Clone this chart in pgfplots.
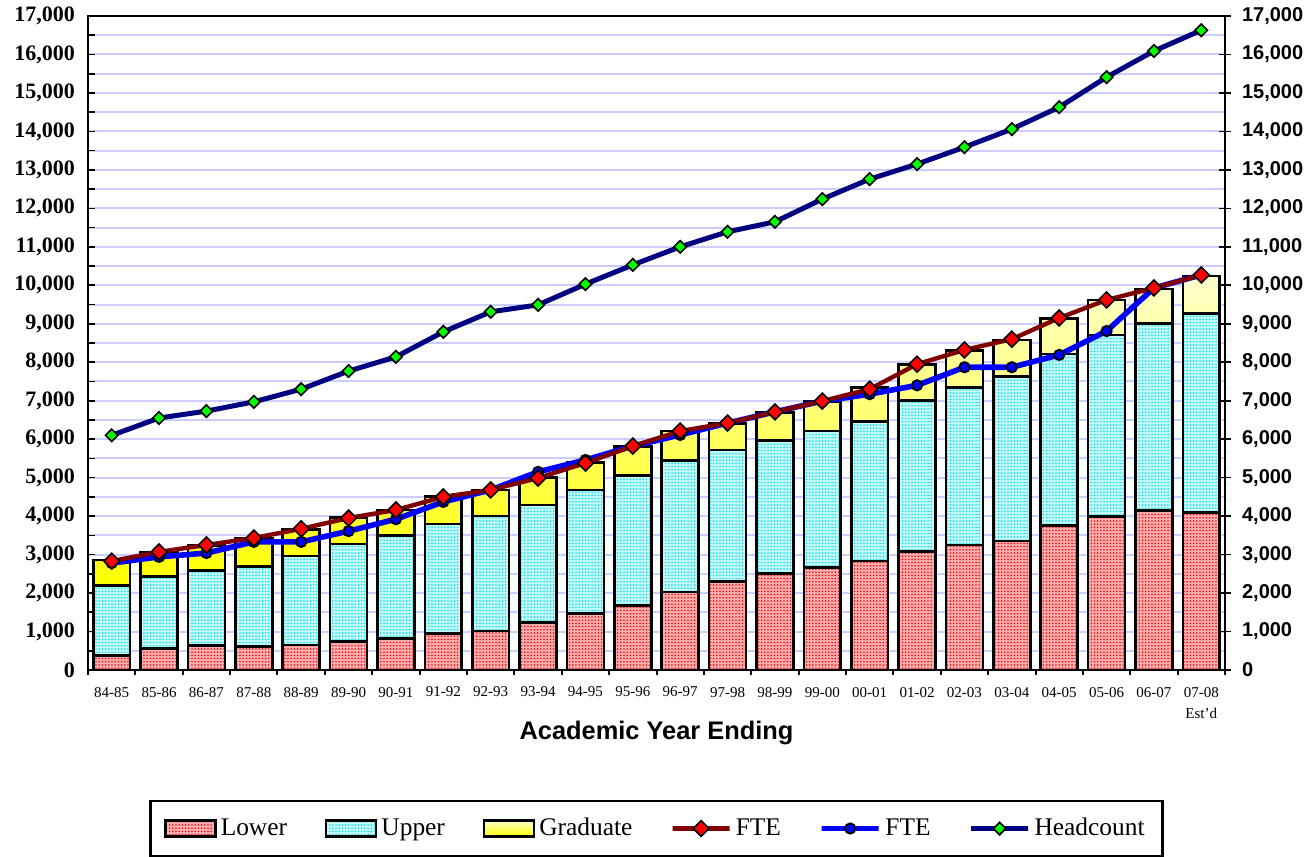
\documentclass[border=0pt]{standalone}
\usepackage{pgfplots}
\usepackage{pgfplotstable}
\pgfplotsset{compat=1.18}
\usepackage{fontspec}
\setmainfont{Liberation Serif}
\newfontfamily\arialfont{Liberation Sans}
\usetikzlibrary{patterns,patterns.meta}
\definecolor{gridlav}{RGB}{204,204,255}
\definecolor{ftered}{RGB}{128,0,0}
\definecolor{navyc}{RGB}{0,0,128}
\definecolor{lowbg}{RGB}{255,175,175}
\definecolor{lowdot}{RGB}{245,10,10}
\definecolor{upbg}{RGB}{200,250,250}
\definecolor{updot}{RGB}{0,225,235}
\definecolor{gradtop}{RGB}{255,255,205}
\definecolor{gradbot}{RGB}{255,255,0}

\pgfplotstableread{
x L U G
0 380 1810 670
1 564 1861 625
2 642 1940 650
3 607 2079 734
4 650 2313 694
5 736 2539 694
6 823 2668 667
7 953 2842 710
8 1018 2980 682
9 1230 3060 710
10 1473 3207 710
11 1681 3377 747
12 2027 3413 772
13 2296 3422 693
14 2513 3447 728
15 2669 3543 762
16 2833 3621 883
17 3075 3925 935
18 3249 4098 953
19 3353 4270 954
20 3751 4462 927
21 3985 4722 909
22 4141 4870 891
23 4089 5182 969
}\barTab

\pgfplotstableread{
x fte ftb head
0 2830 2780 6100
1 3070 2940 6550
2 3250 3040 6730
3 3430 3330 6970
4 3670 3330 7300
5 3950 3610 7770
6 4160 3920 8140
7 4500 4370 8790
8 4680 4680 9310
9 4990 5150 9490
10 5380 5460 10030
11 5820 5820 10530
12 6210 6110 11000
13 6420 6420 11390
14 6710 6710 11650
15 6990 6990 12240
16 7300 7170 12760
17 7950 7400 13150
18 8320 7870 13590
19 8600 7870 14060
20 9150 8190 14630
21 9620 8810 15410
22 9930 9930 16090
23 10270 10270 16630
}\lineTab

\pgfplotsset{
  barleg/.style={legend image code/.code={\draw[##1, line width=1.2pt] (0pt,-4pt) rectangle (25pt,4pt);}},
  lineleg/.style={legend image code/.code={\draw[##1, mark repeat=2, mark phase=2] plot coordinates {(0pt,0pt) (5pt,0pt) (10pt,0pt)};}},
}

\begin{document}
\begin{tikzpicture}
\begin{axis}[
  scale only axis, width=568.5pt, height=327pt,
  xmin=-0.5, xmax=23.5, ymin=0, ymax=17000,
  ybar stacked, bar width=0.78,
  axis line style={black, line width=1.3pt},
  xtick={0,...,23},
  xticklabels={84-85,85-86,86-87,87-88,88-89,89-90,90-91,91-92,92-93,93-94,94-95,95-96,96-97,97-98,98-99,99-00,00-01,01-02,02-03,03-04,04-05,05-06,06-07,{07-08\\Est'd}},
  xticklabel style={font=\fontsize{7.5}{10.5}\selectfont, align=center, yshift=-5pt},
  xtick style={draw=none},
  extra x ticks={-0.5,0.5,...,23.5},
  extra x tick labels={},
  extra x tick style={tick align=outside, major tick length=2.5pt, xtick style={draw=black, line width=1pt}},
  xtick pos=bottom,
  ytick={0,1000,...,17000},
  minor ytick={500,1500,...,16500},
  ytick pos=left,
  tick align=inside,
  major tick length=3.5pt, minor tick length=3.5pt,
  ytick style={black, line width=0.8pt},
  ymajorgrids, yminorgrids,
  major grid style={gridlav, line width=1pt},
  minor grid style={gridlav, line width=1pt},
  scaled y ticks=false,
  yticklabel style={font=\fontsize{11}{13}\selectfont\bfseries, /pgf/number format/1000 sep={,}, /pgf/number format/assume math mode=true, xshift=-3pt},
  xlabel={Academic Year Ending},
  xlabel style={font=\arialfont\bfseries\fontsize{12.7}{15}\selectfont, at={(axis description cs:0.5,-0.107)}, anchor=base},
  legend columns=-1,
  legend style={at={(0.5,-0.1988)}, anchor=north, draw=black, line width=1.2pt,
    font=\fontsize{12.7}{15}\selectfont, inner xsep=7pt, inner ysep=6.5pt,
    /tikz/every even column/.append style={column sep=17pt}},
]
\addplot[barleg, draw=black, line width=1.3pt, fill=lowbg, postaction={pattern={Dots[distance=1.6pt, radius=0.45pt]}, pattern color=lowdot}] table[x=x,y=L] \barTab;
\addlegendentry{Lower}
\addplot[barleg, draw=black, line width=1.3pt, fill=upbg, postaction={pattern={Dots[distance=1.6pt, radius=0.45pt]}, pattern color=updot}] table[x=x,y=U] \barTab;
\addlegendentry{Upper}
\addplot[barleg, draw=black, line width=1.3pt, top color=gradtop, bottom color=gradbot] table[x=x,y=G] \barTab;
\addlegendentry{Graduate}
\addlegendimage{lineleg, ftered, line width=2.2pt, mark=square*, mark size=2.8pt, mark options={rotate=45, fill=red, draw=black, line width=0.8pt}}
\addlegendentry{FTE}
\addlegendimage{lineleg, blue, line width=2.8pt, mark=*, mark size=2.6pt, mark options={fill=blue, draw=black, line width=0.9pt}}
\addlegendentry{FTE}
\addlegendimage{lineleg, navyc, line width=2.5pt, mark=square*, mark size=2.2pt, mark options={rotate=45, fill=green, draw=black, line width=0.8pt}}
\addlegendentry{Headcount}
\end{axis}
\begin{axis}[
  scale only axis, width=568.5pt, height=327pt,
  xmin=-0.5, xmax=23.5, ymin=0, ymax=17000,
  axis x line=none, axis y line*=right,
  axis line style={black, line width=1.3pt},
  ytick={0,1000,...,17000},
  tick align=center, major tick length=6pt,
  ytick style={black, line width=0.8pt},
  scaled y ticks=false,
  yticklabel style={font=\arialfont\bfseries\fontsize{10}{12}\selectfont, /pgf/number format/1000 sep={,}, /pgf/number format/assume math mode=true, xshift=2pt},
  clip=false,
]
\addplot[blue, line width=2.8pt, mark=*, mark size=2.6pt, mark options={fill=blue, draw=black, line width=0.9pt}] table[x=x,y=ftb] \lineTab;
\addplot[ftered, line width=2.2pt, mark=square*, mark size=2.8pt, mark options={rotate=45, fill=red, draw=black, line width=0.8pt}] table[x=x,y=fte] \lineTab;
\addplot[navyc, line width=2.5pt, mark=square*, mark size=2.2pt, mark options={rotate=45, fill=green, draw=black, line width=0.8pt}] table[x=x,y=head] \lineTab;
\end{axis}
\pgfresetboundingbox
\useasboundingbox (-44pt,-93.5pt) rectangle (612.5pt,335pt);
\end{tikzpicture}
\end{document}
